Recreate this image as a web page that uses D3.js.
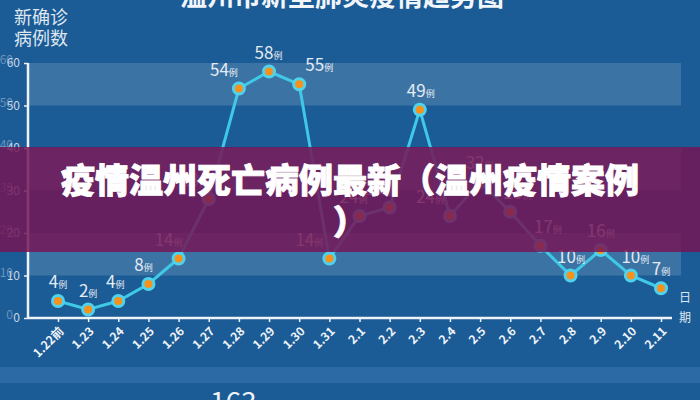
<!DOCTYPE html>
<html><head><meta charset="utf-8">
<script src="https://cdn.jsdelivr.net/npm/d3@7"></script>
<style>
html,body{margin:0;padding:0;background:#1b5b96;overflow:hidden;}
svg{display:block;}
text{font-family:"Noto Sans CJK SC","Noto Sans",sans-serif;}
</style></head>
<body>
<svg id="c" width="700" height="400"></svg>
<script>
const categories = ["1.22前","1.23","1.24","1.25","1.26","1.27","1.28","1.29","1.30","1.31","2.1","2.2","2.3","2.4","2.5","2.6","2.7","2.8","2.9","2.10","2.11"];
const values = [4,2,4,8,14,28,54,58,55,14,24,26,49,24,32,25,17,10,16,10,7];
const yTicks = [0,10,20,30,40,50,60];
const unit = "例";
const chartTitle = "温州市新型肺炎疫情趋势图";
const yLabel = ["新确诊","病例数"];
const xLabel = ["日","期"];
const bannerLines = ["疫情温州死亡病例最新（温州疫情案例","）"];
const totalValue = "163";

const svg = d3.select("#c");
const W = 700, H = 400;

svg.append("rect").attr("width",W).attr("height",H).attr("fill","#1b5b96");

const x = d3.scalePoint().domain(categories).range([58,661]);
const y = d3.scaleLinear().domain([0,60]).range([318,63]);

// alternating bands
const bandPairs = d3.pairs(yTicks).filter((p,i)=> i%2===1);
svg.selectAll(".band").data(bandPairs).enter().append("rect")
  .attr("x",29).attr("width",681-29)
  .attr("y",d=>y(d[1])).attr("height",d=>y(d[0])-y(d[1]))
  .attr("fill","rgba(255,255,255,0.15)");

// bottom strip
svg.append("rect").attr("x",0).attr("width",W).attr("y",367).attr("height",16).attr("fill","rgba(90,150,210,0.25)");

// title (cut at top)
svg.append("text").attr("x",342).attr("y",6).attr("text-anchor","middle")
  .attr("font-size",27).attr("font-weight","bold").attr("fill","#f2f6fa").text(chartTitle);

// y label
yLabel.forEach((t,i)=>{
  svg.append("text").attr("x",14).attr("y",24+i*21).attr("font-size",18)
    .attr("fill","#dfe7ef").text(t);
});

// y axis
const yAxis = svg.append("g").attr("transform","translate(28,0)")
  .call(d3.axisLeft(y).tickValues(yTicks).tickSize(4).tickPadding(4));
yAxis.select(".domain").attr("stroke","#eef3f8").attr("stroke-width",2.5).attr("d","M0,"+y(60)+"V"+y(0));
yAxis.selectAll(".tick line").attr("stroke","#eef3f8").attr("stroke-width",1.5);
yAxis.selectAll(".tick text").attr("fill","#c9d7e6").attr("font-size",12).attr("font-family","Liberation Sans, Arial, sans-serif");
// ghost copies of tick labels
yAxis.selectAll(".tick").append("text")
  .attr("x",-15).attr("y",-3).attr("dy","0.32em").attr("text-anchor","end")
  .attr("fill","#c9d7e6").attr("opacity",0.45).attr("font-size",12)
  .attr("font-family","Liberation Sans, Arial, sans-serif")
  .text(d=>d);

// x axis
const xAxis = svg.append("g").attr("transform","translate(0,318)")
  .call(d3.axisBottom(x).tickSize(4).tickPadding(4));
xAxis.select(".domain").attr("stroke","#eef3f8").attr("stroke-width",2.5).attr("d","M28,0H672");
xAxis.selectAll(".tick line").attr("stroke","#eef3f8").attr("stroke-width",1.5);
xAxis.selectAll(".tick text")
  .attr("fill","#eef3f8").attr("font-size",12).attr("font-weight","bold")
  .attr("font-family","Liberation Sans, Arial, sans-serif")
  .attr("text-anchor","end").attr("dy",null)
  .attr("transform","translate(6,14) rotate(-45)").attr("x",0).attr("y",0);

xLabel.forEach((t,i)=>{
  svg.append("text").attr("x",679).attr("y",302+i*20).attr("font-size",12)
    .attr("fill","#dfe7ef").text(t);
});

// line
const data = categories.map((c,i)=>({c, v:values[i], i}));
svg.append("path").datum(data)
  .attr("fill","none").attr("stroke","#3fc9e6").attr("stroke-width",3)
  .attr("d", d3.line().x(d=>x(d.c)).y(d=>y(d.v)));

svg.selectAll(".pt").data(data).enter().append("circle")
  .attr("cx",d=>x(d.c)).attr("cy",d=>y(d.v)).attr("r",5.5)
  .attr("fill","#f7911c").attr("stroke","#4fd2ec").attr("stroke-width",3);

// labels
function labelDx(i){
  const v = values[i], p = values[i-1], n = values[i+1];
  if (p===undefined || n===undefined) return 0;
  if (v<p && v<n && p-v>15) return -20;
  return Math.max(-15, Math.min(20, -(n-p)*0.5));
}
const lab = svg.selectAll(".lab").data(data).enter().append("text")
  .attr("x",d=>x(d.c)+labelDx(d.i)).attr("y",d=>y(d.v)-13)
  .attr("text-anchor","middle").attr("fill","#e4ebf2")
  .attr("font-family","Liberation Sans, Arial, sans-serif");
lab.append("tspan").attr("font-size",17).text(d=>d.v);
lab.append("tspan").attr("font-size",9).attr("font-family","Noto Sans CJK SC").text(unit);

// total (cut at bottom)
const tot = svg.append("text").attr("x",210).attr("y",413).attr("fill","#eef3f8")
  .attr("font-family","Liberation Sans, Arial, sans-serif");
tot.append("tspan").attr("font-size",28).text(totalValue);
tot.append("tspan").attr("font-size",15).attr("font-family","Noto Sans CJK SC").text(unit);

// overlay banner
svg.append("rect").attr("x",0).attr("y",147).attr("width",W).attr("height",105)
  .attr("fill","rgba(116,22,86,0.85)");
bannerLines.forEach((t,i)=>{
  svg.append("text").attr("x",350).attr("y",193+i*42).attr("text-anchor","middle")
    .attr("font-size",34).attr("font-weight","900").attr("fill","#ffffff")
    .attr("stroke","#ffffff").attr("stroke-width",0.9).attr("paint-order","stroke").text(t);
});
</script>
</body></html>
